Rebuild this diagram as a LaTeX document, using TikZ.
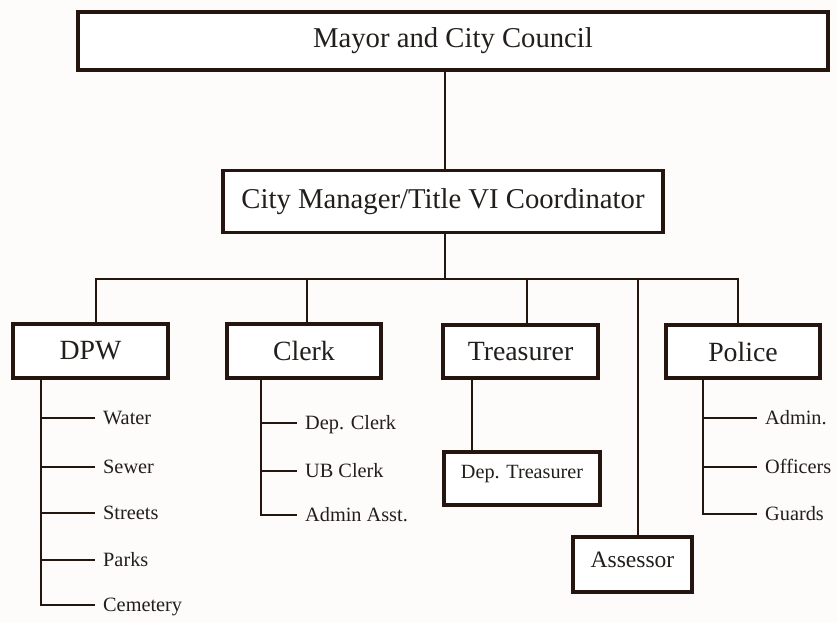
\documentclass[tikz,border=0pt]{standalone}
\usepackage{fontspec}
\setmainfont{Liberation Serif}
\definecolor{ink}{RGB}{36,22,14}
\definecolor{txt}{RGB}{34,30,28}
\definecolor{paper}{RGB}{253,252,250}
\begin{document}
\begin{tikzpicture}[x=1pt,y=-1pt,
  box/.style={draw=ink,line width=3.2pt,fill=white,inner sep=0pt,text=txt,font=\fontsize{27.8}{30}\selectfont},
  conn/.style={draw=ink,line width=2.8pt},
  leaf/.style={anchor=west,inner xsep=8pt,inner ysep=0pt,text height=13.5pt,text depth=0pt,text=txt,font=\fontsize{20.3}{22}\selectfont}]
\path[fill=paper,use as bounding box] (0,0) rectangle (837,623);

% boxes
\node[box,minimum width=750pt,minimum height=58pt,font=\fontsize{28.7}{31}\selectfont] (top) at (453,41) {Mayor and City Council};
\node[box,minimum width=440pt,minimum height=62pt,font=\fontsize{28.7}{31}\selectfont] (mgr) at (443,201.5) {City Manager/Title VI Coordinator};
\node[box,minimum width=155pt,minimum height=54pt] (dpw) at (90.5,351) {DPW};
\node[box,minimum width=154pt,minimum height=54pt] (clerk) at (304,351) {Clerk};
\node[box,minimum width=155pt,minimum height=53pt] (treas) at (520.5,351.5) {Treasurer};
\node[box,minimum width=154pt,minimum height=53pt] (police) at (743,351.5) {Police};
\node[box,minimum width=156pt,minimum height=53pt,text height=14pt,text depth=14pt,font=\fontsize{20.2}{22}\selectfont] (dept) at (522,478.5) {Dep. Treasurer};
\node[box,minimum width=119pt,minimum height=55pt,text height=16pt,text depth=9.5pt,font=\fontsize{23.5}{25}\selectfont] (asr) at (632.5,564.5) {Assessor};

% bus
\coordinate (bus) at (0,279);
\draw[conn] ([xshift=2pt]mgr.north) -- ([xshift=2pt]mgr.north |- top.south);
\draw[conn] ([xshift=2pt]mgr.south) -- ([xshift=2pt]mgr.south |- bus);
\draw[conn] ([xshift=5.5pt]dpw.north) |- ([xshift=-5pt]police.north |- bus) -- ([xshift=-5pt]police.north);
\draw[conn] ([xshift=3pt]clerk.north) -- ([xshift=3pt]clerk.north |- bus);
\draw[conn] ([xshift=6.5pt]treas.north) -- ([xshift=6.5pt]treas.north |- bus);
\draw[conn] ([xshift=5.5pt]asr.north) -- ([xshift=5.5pt]asr.north |- bus);

% DPW
\node[leaf] (water) at (95,418) {Water};
\node[leaf] (sewer) at (95,467) {Sewer};
\node[leaf] (streets) at (95,513) {Streets};
\node[leaf] (parks) at (95,560) {Parks};
\node[leaf] (cem) at (95,605) {Cemetery};
\coordinate (dpwsp) at ([xshift=-49.5pt]dpw.south);
\foreach \n in {water,sewer,streets,parks,cem}{\draw[conn] (dpwsp) |- (\n.west);}

% Clerk
\node[leaf] (depc) at (297,423) {Dep. Clerk};
\node[leaf] (ubc) at (297,471) {UB Clerk};
\node[leaf] (aasst) at (297,515) {Admin Asst.};
\coordinate (clsp) at ([xshift=-43pt]clerk.south);
\foreach \n in {depc,ubc,aasst}{\draw[conn] (clsp) |- (\n.west);}

% Treasurer
\coordinate (trsp) at ([xshift=-48.5pt]treas.south);
\draw[conn] (trsp) -- (trsp |- dept.north);

% Police
\node[leaf] (padm) at (757,418) {Admin.};
\node[leaf] (poff) at (757,467) {Officers};
\node[leaf] (pgua) at (757,514) {Guards};
\coordinate (posp) at ([xshift=-40pt]police.south);
\foreach \n in {padm,poff,pgua}{\draw[conn] (posp) |- (\n.west);}
\end{tikzpicture}
\end{document}
